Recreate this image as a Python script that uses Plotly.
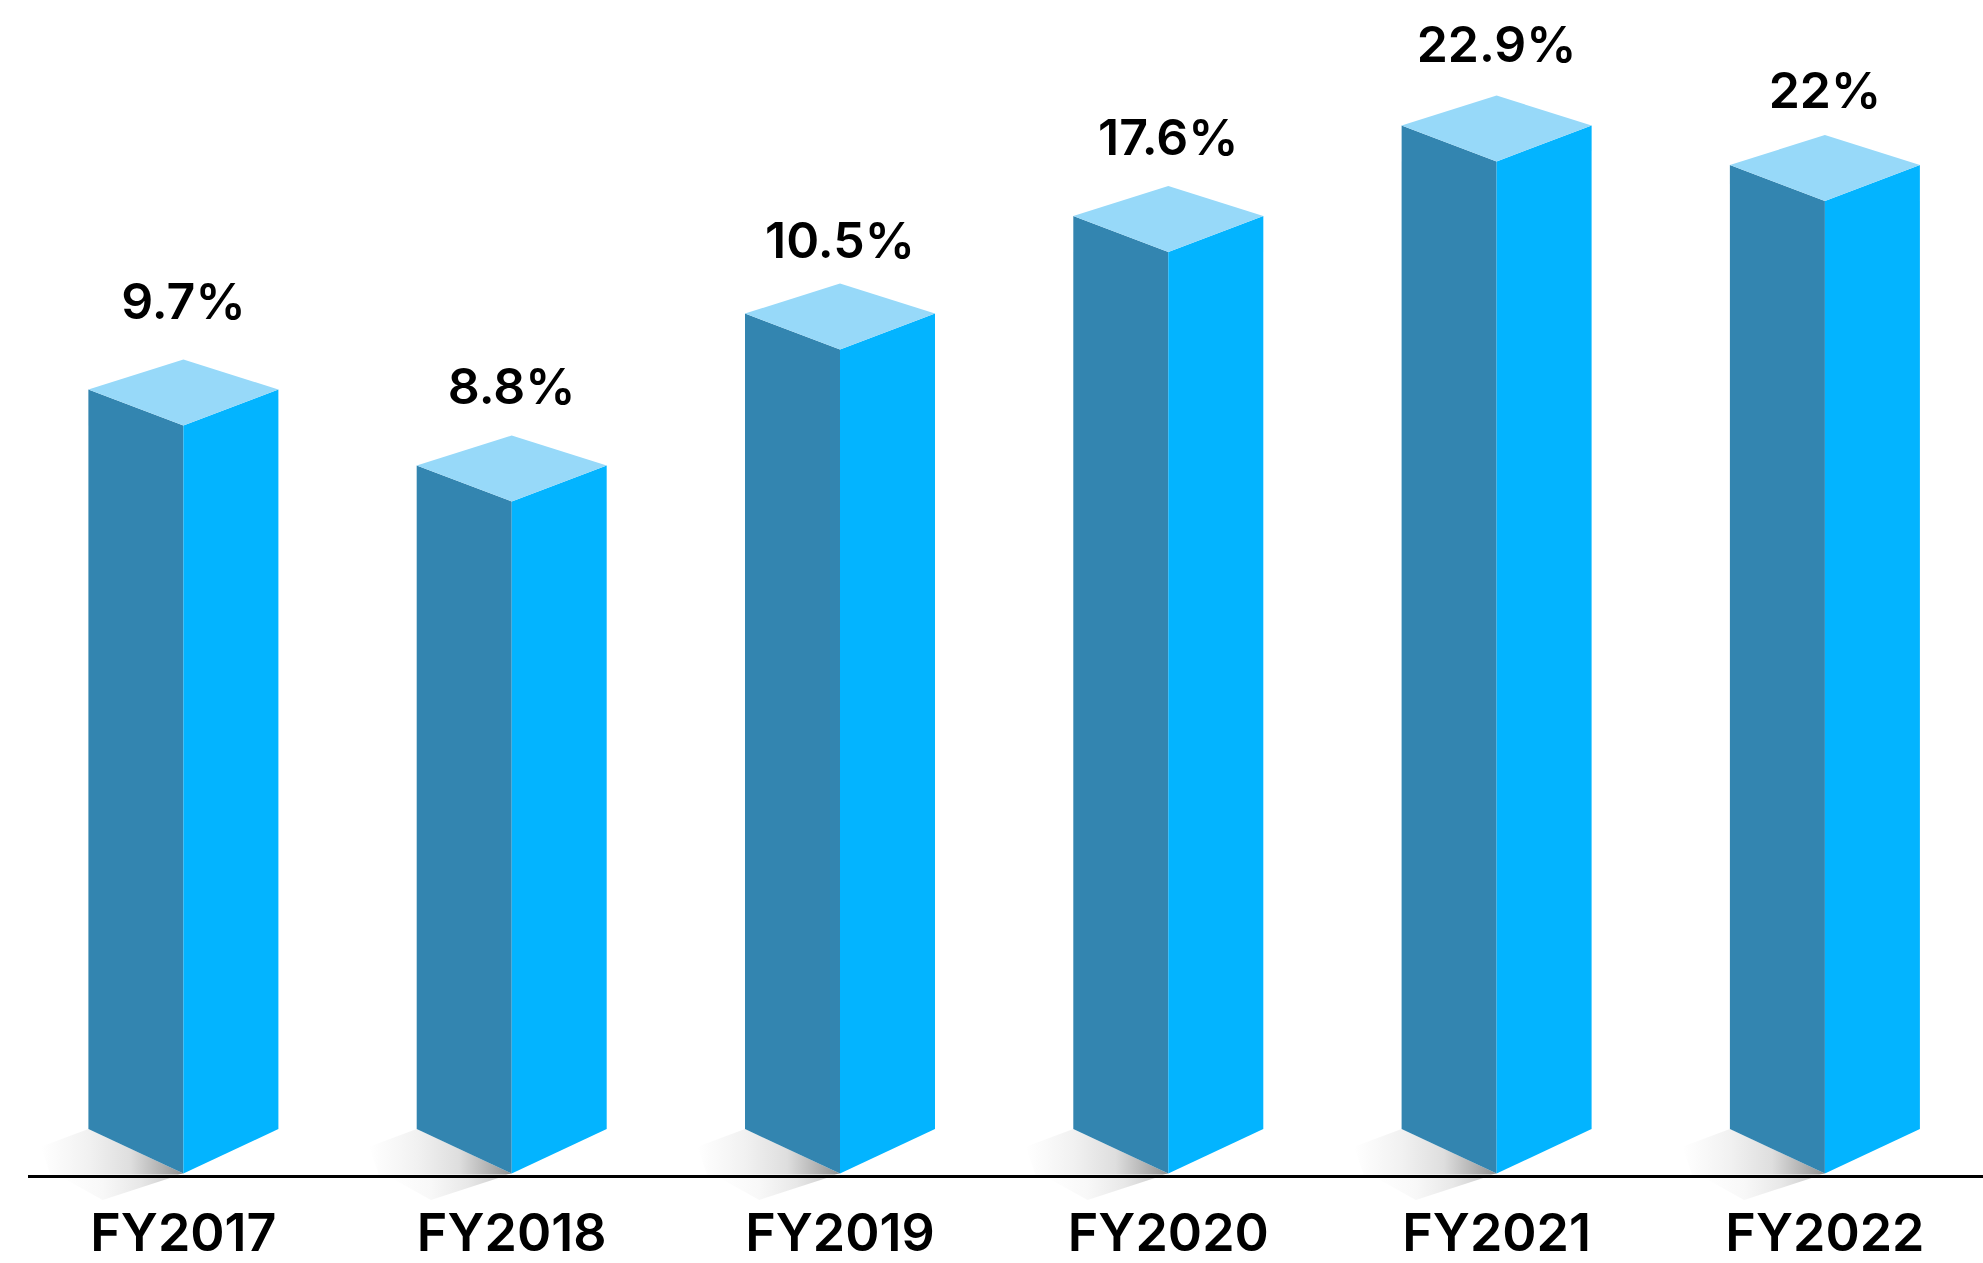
import plotly.graph_objects as go

# ---- data ----
categories = ["FY2017", "FY2018", "FY2019", "FY2020", "FY2021", "FY2022"]
value_labels = ["9.7%", "8.8%", "10.5%", "17.6%", "22.9%", "22%"]
# The printed percentages are not proportional to the drawn columns, so the
# drawn column heights are read separately (pixels of the picture).
drawn_heights = [739.5, 663.5, 815.5, 913, 1003.5, 964]
label_gaps = [53, 44, 38, 44, 46, 40]

# ---- style ----
W, H = 1983, 1263
AXIS_LEFT = 28
STEP = 328.3
CENTER0 = 183.4
HALF = 95 / STEP          # half column width, in category units
BASE = 134                # y of the side-bottom corner above picture bottom
FRONT_DROP = 44.6
TOP_RISE = 30
TOP_DROP = 36
COL_LEFT = "#3385B0"
COL_RIGHT = "#03B4FF"
COL_TOP = "#97D9F9"
FONT = "Inter"

fig = go.Figure()

def poly(xs, ys, color=None, gradient=None):
    kw = dict(x=xs, y=ys, mode="lines", fill="toself", line=dict(width=0),
              hoverinfo="skip", showlegend=False)
    if gradient:
        kw["fillgradient"] = gradient
    else:
        kw["fillcolor"] = color
    fig.add_trace(go.Scatter(**kw))

SHADOW_UP = dict(type="horizontal", colorscale=[
    [0, "#FFFFFF"], [0.34, "#F1F1F1"], [0.63, "#DEDEDE"], [0.95, "#9C9C9C"], [1, "#8C8C8C"]])
SHADOW_DOWN = dict(type="horizontal", colorscale=[
    [0, "#FFFFFF"], [0.37, "#F8F8F8"], [0.7, "#E8E8E8"], [1, "#CCCCCC"]])

for i, h in enumerate(drawn_heights):
    top = BASE + h
    # soft shadow above the baseline
    poly([i - HALF * 1.5, i - HALF, i, i - HALF * 0.06, i - HALF * 1.4],
         [BASE - 17.7, BASE, BASE - FRONT_DROP, BASE - 45.5, BASE - 45.5],
         gradient=SHADOW_UP)
    # soft shadow below the baseline
    poly([i - HALF * 0.1, i - HALF * 0.85, i - HALF * 1.29],
         [BASE - 47.7, BASE - 71, BASE - 47.7],
         gradient=SHADOW_DOWN)
    # faces
    poly([i - HALF, i, i, i - HALF], [BASE, BASE - FRONT_DROP, top - TOP_DROP, top], COL_LEFT)
    poly([i, i + HALF, i + HALF, i], [BASE - FRONT_DROP, BASE, top, top - TOP_DROP], COL_RIGHT)
    poly([i - HALF, i, i + HALF, i], [top, top + TOP_RISE, top, top - TOP_DROP], COL_TOP)

fig.add_trace(go.Scatter(
    x=list(range(len(categories))),
    y=[BASE + h + TOP_RISE + g for h, g in zip(drawn_heights, label_gaps)],
    mode="text", text=value_labels, textposition="middle center",
    textfont=dict(family=FONT, size=50, color="#000000", weight=600),
    hoverinfo="skip", showlegend=False))

fig.update_layout(
    width=W, height=H, margin=dict(l=0, r=0, t=0, b=0),
    paper_bgcolor="white", plot_bgcolor="white", showlegend=False,
    xaxis=dict(
        domain=[AXIS_LEFT / W, 1], automargin=False,
        range=[(AXIS_LEFT - CENTER0) / STEP, (W - CENTER0) / STEP],
        tickmode="array", tickvals=list(range(len(categories))), ticktext=categories,
        tickfont=dict(family=FONT, size=52, color="#000000", weight=600),
        ticks="", showgrid=False, zeroline=False,
        showline=True, linecolor="#000000", linewidth=2.5,
        anchor="free", position=87 / H, ticklabelstandoff=11),
    yaxis=dict(range=[0, H], visible=False, showgrid=False, zeroline=False, automargin=False),
)

fig.write_html("out.html", config={"displayModeBar": False},
               post_script="document.body.style.margin='0';")
